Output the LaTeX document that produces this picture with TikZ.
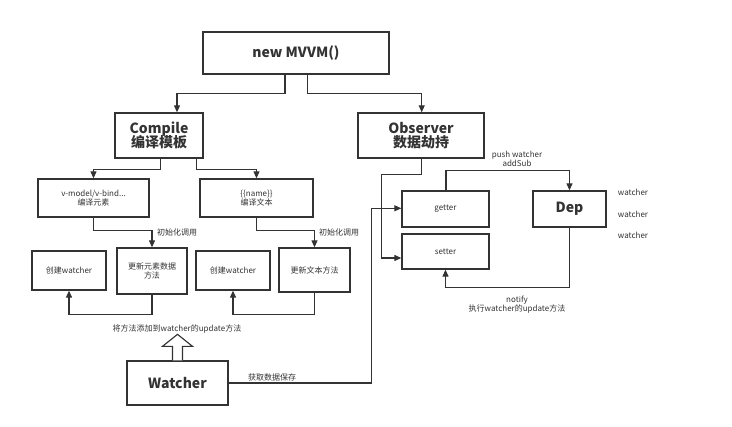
\documentclass[tikz,border=0pt]{standalone}
\usepackage{fontspec}
\setmainfont{Noto Sans CJK SC}
\usetikzlibrary{arrows.meta,calc}
\definecolor{ln}{HTML}{333333}
\definecolor{tx}{HTML}{333333}
\tikzset{
  box/.style={draw=ln, line width=1.3pt, fill=white, inner sep=1pt, align=center, text=tx},
  big/.style={font=\fontsize{14}{17}\selectfont\bfseries},
  small/.style={font=\fontsize{8}{10}\selectfont},
  lbl/.style={font=\fontsize{8}{10}\selectfont, text=tx, inner sep=0pt, align=center},
  arr/.style={draw=ln, line width=1.1pt, -{Triangle[length=7pt,width=6pt]}},
  con/.style={draw=ln, line width=1.1pt}
}
\begin{document}
\begin{tikzpicture}[x=1pt,y=-1pt]
\useasboundingbox[fill=white] (0,0) rectangle (732,427);
% boxes
\node[box,big,minimum width=186pt,minimum height=42pt] (mvvm) at (296,53) {new MVVM()};
\node[box,big,minimum width=88pt,minimum height=45pt] (compile) at (159,135.5) {Compile\\[-3pt]编译模板};
\node[box,big,minimum width=126pt,minimum height=45pt] (observer) at (421,135.5) {Observer\\[-3pt]数据劫持};
\node[box,small,minimum width=111pt,minimum height=38pt] (vmodel) at (93.5,198) {v-model/v-bind...\\[-1pt]编译元素};
\node[box,small,minimum width=113pt,minimum height=38pt] (name) at (256.5,198) {\{\{name\}\}\\[-1pt]编译文本};
\node[box,small,minimum width=74pt,minimum height=39pt] (cw1) at (69,270.5) {创建watcher};
\node[box,small,minimum width=70pt,minimum height=46pt] (upd1) at (152,271) {更新元素数据\\[-1pt]方法};
\node[box,small,minimum width=74pt,minimum height=39pt] (cw2) at (233,270.5) {创建watcher};
\node[box,small,minimum width=71pt,minimum height=44pt] (upd2) at (314.5,270) {更新文本方法};
\node[box,big,minimum width=101pt,minimum height=44pt] (watcher) at (177.5,383) {Watcher};
\node[box,small,minimum width=87pt,minimum height=36pt] (getter) at (445.5,209) {getter};
\node[box,small,minimum width=87pt,minimum height=35pt] (setter) at (445.5,251.5) {setter};
\node[box,big,minimum width=73pt,minimum height=36pt] (dep) at (569.5,209) {Dep};
% labels
\node[lbl,anchor=west] (l1) at (157,232) {初始化调用};
\node[lbl,anchor=west] (l2) at (319,232) {初始化调用};
\node[lbl] (l3) at (177,329) {将方法添加到watcher的update方法};
\node[lbl,anchor=south west] (l4) at (248,381) {获取数据保存};
\node[lbl] (l5) at (517,159) {push watcher\\[-1pt]addSub};
\node[lbl] (l6) at (517,305) {notify\\[-1pt]执行watcher的update方法};
\node[lbl] (w1) at (633,192) {watcher};
\node[lbl] (w2) at (633,214) {watcher};
\node[lbl] (w3) at (633,235) {watcher};
% connectors
\draw[arr] ($(mvvm.south)+(-11,0)$) -- ++(0,19) -| ($(compile.north)+(18,0)$);
\draw[arr] ($(mvvm.south)+(11.7,0)$) -- ++(0,19) -| ($(observer.north)+(0.7,0)$);
\draw[arr] ($(compile.south)+(1.7,0)$) -- ++(0,11) -| (vmodel.north);
\draw[arr] ($(compile.south)+(37.7,0)$) -- ++(0,11) -| (name.north);
\draw[arr] (vmodel.south) -- ++(0,13) -| (upd1.north);
\draw[arr] (name.south) -- ++(0,13) -| (upd2.north);
\draw[arr] (upd1.south) -- ++(0,20) -| (cw1.south);
\draw[arr] (upd2.south) -- ++(0,22) -| (cw2.south);
\draw[arr] (watcher.east) -| ($(getter.west)+(-29.5,-0.7)$) -- ($(getter.west)+(0,-0.7)$);
\draw[arr] ($(observer.south)+(0.7,0)$) -- ++(0,16) -| ($(setter.west)+(-20,6.5)$) -- ($(setter.west)+(0,6.5)$);
\draw[arr] ($(getter.north)+(0.5,0)$) -- ++(0,-20) -| (dep.north);
\draw[arr] (dep.south) -- ++(0,60) -| (setter.south);
% hollow arrow
\draw[draw=ln, line width=1.1pt, fill=white, line join=miter]
  ($(watcher.north)+(-5,0)$) -- ++(0,-14) -- ++(-10,0) -- ($(watcher.north)+(0,-26)$)
  -- ($(watcher.north)+(15,-14)$) -- ++(-10,0) -- ($(watcher.north)+(5,0)$);
\end{tikzpicture}
\end{document}
